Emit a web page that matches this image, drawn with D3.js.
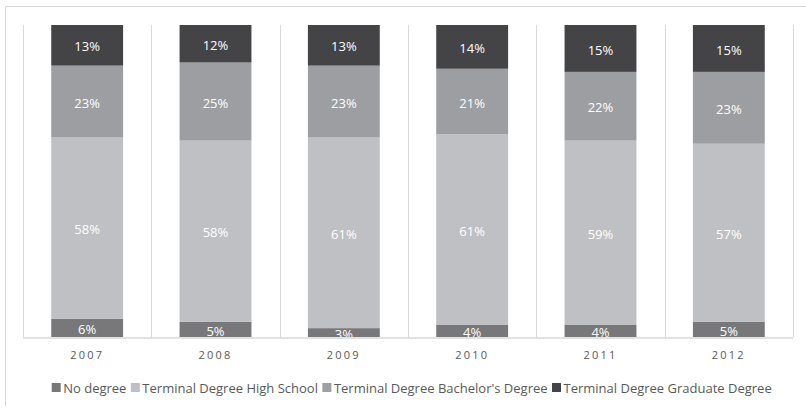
<!DOCTYPE html>
<html><head><meta charset="utf-8">
<script src="https://cdn.jsdelivr.net/npm/d3@7"></script>
<style>
html,body{margin:0;padding:0;background:#fff;}
svg{display:block;font-family:"Open Sans",sans-serif;}
</style></head>
<body><svg id="c" width="806" height="408"></svg>
<script>
const years = ["2007","2008","2009","2010","2011","2012"];
const seriesNames = ["No degree","Terminal Degree High School","Terminal Degree Bachelor's Degree","Terminal Degree Graduate Degree"];
const noDegree   = [6,5,3,4,4,5];
const highSchool = [58,58,61,61,59,57];
const bachelors  = [23,25,23,21,22,23];
const graduate   = [13,12,13,14,15,15];
const colors = ["#78787b","#bfc0c3","#9d9ea1","#444447"];

(function(){
const svg = d3.select("#c");
svg.append("path").attr("d","M5.5,406 V6.5 H806").attr("fill","none").attr("stroke","#d9d9d9");

const pLeft=23, pRight=793, pTop=25, pBottom=337.5;
const x = d3.scaleBand().domain(years).range([pLeft,pRight]).paddingInner(0.44).paddingOuter(0.22);
const y = d3.scaleLinear().domain([0,100]).range([pBottom,pTop]);

const step = x.step();
const bounds = d3.range(years.length+1).map(i=>pLeft+i*step);
svg.append("g").selectAll("line").data(bounds).join("line")
  .attr("x1",d=>Math.round(d)+0.5).attr("x2",d=>Math.round(d)+0.5)
  .attr("y1",pTop).attr("y2",pBottom).attr("stroke","#d9d9d9");

const rows = years.map((yr,i)=>({year:yr, s0:noDegree[i], s1:highSchool[i], s2:bachelors[i], s3:graduate[i]}));
const stack = d3.stack().keys(["s0","s1","s2","s3"])(rows);

svg.append("defs").append("clipPath").attr("id","pc").append("rect")
  .attr("x",pLeft).attr("y",pTop).attr("width",pRight-pLeft).attr("height",pBottom-pTop-0.5);

const g = svg.append("g").attr("clip-path","url(#pc)");
stack.forEach((layer,k)=>{
  g.append("g").selectAll("rect").data(layer).join("rect")
    .attr("x",d=>x(d.data.year)).attr("width",x.bandwidth())
    .attr("y",d=>y(d[1])).attr("height",d=>y(d[0])-y(d[1]))
    .attr("fill",colors[k]);
});
stack.forEach((layer,k)=>{
  g.append("g").selectAll("text").data(layer).join("text")
    .attr("x",d=>x(d.data.year)+x.bandwidth()/2)
    .attr("y",d=>(y(d[0])+y(d[1]))/2 + 1.5)
    .attr("dy","0.36em").attr("text-anchor","middle")
    .attr("fill","#ffffff").attr("font-size","13px")
    .text(d=>(d[1]-d[0])+"%");
});

svg.append("line").attr("x1",pLeft).attr("x2",pRight).attr("y1",pBottom+0.5).attr("y2",pBottom+0.5)
  .attr("stroke","#d9d9d9").attr("stroke-width",1.5);

const xAxis = svg.append("g").attr("transform",`translate(0,${pBottom})`)
  .call(d3.axisBottom(x).tickSize(0).tickPadding(13.5));
xAxis.select(".domain").remove();
xAxis.selectAll("text").attr("fill","#595959").attr("font-size","11px")
  .attr("font-family","'Open Sans',sans-serif").attr("letter-spacing","2.2px");

const lg = svg.append("g");
const its = [];
seriesNames.forEach((n,i)=>{
  const it = lg.append("g");
  it.append("rect").attr("x",0).attr("y",-9.5).attr("width",9).attr("height",9).attr("fill",colors[i]);
  const t = it.append("text").attr("x",11.5).attr("y",0).attr("fill","#595959").attr("font-size","13px").text(n);
  its.push({it, w: 11.5 + t.node().getComputedTextLength()});
});
const L0 = 51.7, L1 = 771.7;
const sumW = d3.sum(its, d=>d.w);
const gap = Math.max(4, (L1-L0-sumW)/(its.length-1));
let cx = 0;
its.forEach(d=>{ d.it.attr("transform",`translate(${cx},0)`); cx += d.w + gap; });
const total = cx-gap;
lg.attr("transform",`translate(${(L0+L1)/2 - total/2},392.5)`);
})();
</script></body></html>
